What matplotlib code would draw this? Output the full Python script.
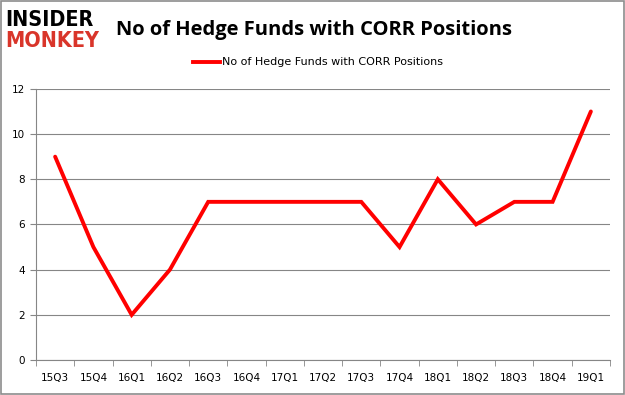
import matplotlib
matplotlib.use("Agg")
import matplotlib.pyplot as plt
from matplotlib.patches import Rectangle

quarters = ["15Q3", "15Q4", "16Q1", "16Q2", "16Q3", "16Q4", "17Q1", "17Q2",
            "17Q3", "17Q4", "18Q1", "18Q2", "18Q3", "18Q4", "19Q1"]
funds = [9, 5, 2, 4, 7, 7, 7, 7, 7, 5, 8, 6, 7, 7, 11]
series_name = "No of Hedge Funds with CORR Positions"
title = "No of Hedge Funds with CORR Positions"

fig = plt.figure(figsize=(6.25, 3.95), dpi=100)
fig.patch.set_facecolor("white")
fig.patches.append(Rectangle((0.0016, 0.0025), 0.9968, 0.995, transform=fig.transFigure,
                             fill=False, edgecolor="#8c8c8c", linewidth=1.2))

ax = fig.add_axes([0.0576, 0.0886, 0.9184, 0.6864])
x = list(range(len(quarters)))
ax.plot(x, funds, color="#ff0000", linewidth=2.8, solid_joinstyle="miter",
        solid_capstyle="round")
ax.set_xlim(-0.5, len(quarters) - 0.5)
ax.set_ylim(0, 12)
ax.set_yticks(range(0, 13, 2))
ax.set_xticks(x)
ax.set_xticklabels(quarters, fontsize=7.5, family="DejaVu Sans")
ax.set_xticks([i - 0.5 for i in range(len(quarters) + 1)], minor=True)
ax.tick_params(axis="x", which="major", length=0, pad=9)
ax.tick_params(axis="x", which="minor", length=4, color="#868686")
ax.tick_params(axis="y", length=4, color="#868686", labelsize=7.5, pad=4)
ax.grid(axis="y", color="#868686", linewidth=0.8)
ax.set_axisbelow(True)
for s in ["top", "right"]:
    ax.spines[s].set_visible(False)
ax.spines["bottom"].set_color("#868686")
ax.spines["left"].set_color("#868686")

fig.text(0.502, 0.924, title, ha="center", va="center", fontsize=14.5,
         fontweight="bold", family="Open Sans")
# legend
fig.lines.append(plt.Line2D([0.309, 0.352], [0.843, 0.843], transform=fig.transFigure,
                            color="#ff0000", linewidth=2.8))
fig.text(0.355, 0.843, series_name, ha="left", va="center", fontsize=8)

# logo
fig.text(0.009, 0.950, "INSIDER", ha="left", va="center", fontsize=15.5,
         fontweight="heavy", family="DejaVu Sans", stretch="condensed", color="black")
fig.text(0.009, 0.895, "MONKEY", ha="left", va="center", fontsize=15.5,
         fontweight="heavy", family="DejaVu Sans", stretch="condensed", color="#d9352a")

fig.savefig("out.png", dpi=100)
